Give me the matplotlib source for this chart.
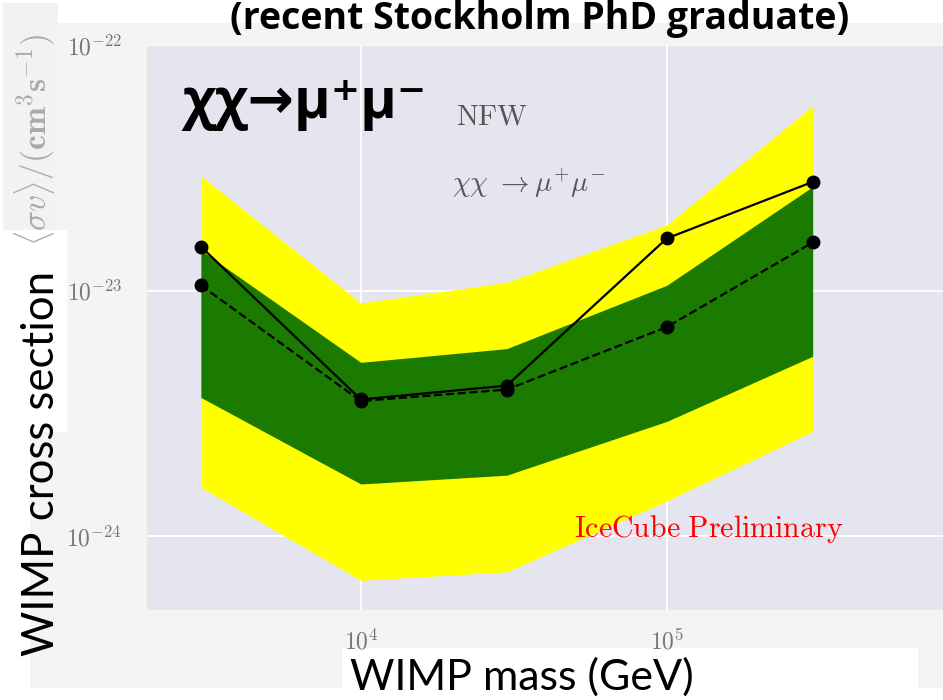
import matplotlib.pyplot as plt
from matplotlib.patches import Rectangle

plt.rcParams['mathtext.fontset'] = 'cm'

# WIMP mass (GeV)
mass = [3e3, 1e4, 3e4, 1e5, 3e5]
# observed and expected limits on <sigma v>
observed = [1.51e-23, 3.6e-24, 4.1e-24, 1.63e-23, 2.77e-23]
expected = [1.05e-23, 3.55e-24, 3.95e-24, 7.1e-24, 1.57e-23]
# sensitivity bands
band2_hi = [2.93e-23, 8.9e-24, 1.08e-23, 1.85e-23, 5.65e-23]
band1_hi = [1.46e-23, 5.1e-24, 5.8e-24, 1.05e-23, 2.65e-23]
band1_lo = [3.67e-24, 1.63e-24, 1.77e-24, 2.93e-24, 5.4e-24]
band2_lo = [1.58e-24, 6.6e-25, 7.15e-25, 1.39e-24, 2.67e-24]

xticks = [1e4, 1e5]
xticklabels = [r'$10^{4}$', r'$10^{5}$']
yticks = [1e-24, 1e-23, 1e-22]
yticklabels = [r'$10^{-24}$', r'$10^{-23}$', r'$10^{-22}$']

fig = plt.figure(figsize=(9.43, 7), dpi=100, facecolor='white')

# slide background pieces (pixel boxes converted to figure fractions)
def box(x0, y0, x1, y1, color):
    fig.add_artist(Rectangle((x0 / 943, 1 - y1 / 700), (x1 - x0) / 943, (y1 - y0) / 700,
                             transform=fig.transFigure, color=color, zorder=-5, lw=0))

box(30, 23, 943, 688, '#f4f4f4')
box(3, 3, 58, 280, '#f2f2f2')
box(0, 230, 67, 432, 'white')
box(342, 648, 918, 700, 'white')

ax = fig.add_axes([147 / 943, 1 - 610 / 700, 1 - 147 / 943, (610 - 45) / 700])
ax.set_facecolor('#e5e5ef')
for s in ax.spines.values():
    s.set_visible(False)
ax.set_xscale('log')
ax.set_yscale('log')
ax.set_xlim(2e3, 8e5)
ax.set_ylim(5e-25, 1e-22)
ax.grid(True, which='major', color='white', lw=1.3)
ax.set_axisbelow(True)
ax.minorticks_off()
ax.set_xticks(xticks)
ax.set_xticklabels(xticklabels)
ax.set_yticks(yticks)
ax.set_yticklabels(yticklabels)
ax.tick_params(length=0, labelsize=17, labelcolor='#777777')
ax.tick_params(axis='x', pad=14)
ax.tick_params(axis='y', pad=18)

ax.fill_between(mass, band2_lo, band2_hi, color='#ffff00', lw=0)
ax.fill_between(mass, band1_lo, band1_hi, color='#1a7b00', lw=0)
ax.plot(mass, observed, 'k-', marker='o', ms=9, lw=1.6)
ax.plot(mass, expected, 'k--', marker='o', ms=9, lw=1.6)

ax.text(0.388, 0.86, r'$\mathrm{NFW}$', transform=ax.transAxes, fontsize=21, color='#555555')
ax.text(0.383, 0.74, r'$\chi\chi\ \rightarrow\mu^{+}\mu^{-}$', transform=ax.transAxes,
        fontsize=20.5, color='#555555')
ax.text(0.537, 0.13, r'$\mathrm{IceCube\ Preliminary}$', transform=ax.transAxes,
        fontsize=21.5, color='red')
ax.text(0.045, 0.87, 'χχ→μ⁺μ⁻', transform=ax.transAxes, fontsize=40, fontweight='bold',
        family=['Open Sans', 'DejaVu Sans'], color='black')

# original (faded) axis label and slide overlay labels
fig.text(35 / 943, 1 - 140 / 700, r'$\langle\sigma v\rangle/(\mathbf{cm^3s^{-1}})$',
         rotation=90, fontsize=24, color='#aaaaaa', ha='center', va='center')
fig.text(42 / 943, 1 - 463 / 700, 'WIMP cross section', rotation=90, fontsize=31.5,
         family='Lato', ha='center', va='center')
fig.text(522 / 943, 1 - 677 / 700, 'WIMP mass (GeV)', fontsize=31, family='Lato',
         ha='center', va='center')
fig.text(540 / 943, 1 - 19 / 700, '(recent Stockholm PhD graduate)', fontsize=27,
         family='Open Sans', fontweight='bold', ha='center', va='center')

fig.savefig('out.png', dpi=100, facecolor='white')
